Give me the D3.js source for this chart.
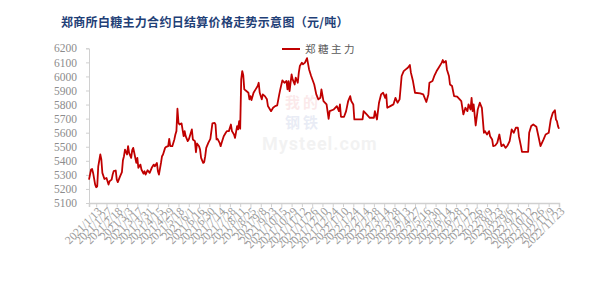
<!DOCTYPE html>
<html>
<head>
<meta charset="utf-8">
<script src="https://cdn.jsdelivr.net/npm/d3@7"></script>
<style>
  body { margin: 0; background: #fff; }
  svg { display: block; }
</style>
</head>
<body>
<div id="chart"></div>
<script>
'use strict'

// y axis ticks
const yTicks = [5100, 5200, 5300, 5400, 5500, 5600, 5700, 5800, 5900, 6000, 6100, 6200]

// trading-day index -> date label on the category axis
const tickDays = [7, 17, 27, 37, 47, 57, 67, 77, 87, 97, 107, 117, 127, 137, 147, 157, 167, 177, 187, 197,
  207, 217, 227, 237, 247, 257, 267, 277, 287, 297, 307, 317, 327, 337, 347, 357, 367, 377, 387, 397,
  407, 417, 427, 437, 447, 457]
const tickDates = ['2021/1/13', '2021/1/27', '2021/2/18', '2021/3/3', '2021/3/17', '2021/3/31', '2021/4/15',
  '2021/4/29', '2021/5/18', '2021/6/1', '2021/6/16', '2021/6/30', '2021/7/14', '2021/7/28', '2021/8/11',
  '2021/8/25', '2021/9/8', '2021/9/23', '2021/10/15', '2021/10/29', '2021/11/12', '2021/11/26',
  '2021/12/10', '2021/12/24', '2022/1/10', '2022/1/24', '2022/2/14', '2022/2/28', '2022/3/14',
  '2022/3/28', '2022/4/13', '2022/4/27', '2022/5/16', '2022/5/30', '2022/6/14', '2022/6/28',
  '2022/7/12', '2022/7/26', '2022/8/9', '2022/8/23', '2022/9/6', '2022/9/21', '2022/10/12',
  '2022/10/26', '2022/11/9', '2022/11/23']

// 郑糖主力 daily settlement (trading-day index, price)
const sugarDays = [0, 2, 3, 4, 6, 7, 8, 9, 11, 12, 13, 15, 17, 18, 19, 20, 22, 23, 24, 26, 27, 28, 30, 32, 33,
  34, 35, 37, 38, 39, 41, 42, 43, 44, 46, 47, 48, 50, 51, 53, 54, 55, 57, 59, 61, 63, 64, 66, 67, 68,
  70, 71, 72, 74, 75, 77, 78, 79, 81, 83, 84, 85, 86, 87, 88, 90, 92, 93, 94, 96, 97, 98, 100, 101,
  103, 104, 105, 107, 108, 109, 111, 112, 113, 114, 116, 118, 120, 122, 123, 124, 125, 127, 128, 129,
  131, 133, 134, 136, 138, 139, 141, 142, 144, 145, 146, 147, 148, 149, 150, 151, 153, 155, 156, 157,
  158, 160, 162, 164, 165, 166, 168, 169, 171, 173, 174, 175, 177, 179, 181, 183, 185, 186, 188, 190,
  192, 193, 194, 195, 197, 198, 200, 201, 203, 204, 205, 207, 208, 210, 212, 214, 216, 219, 221, 223,
  225, 226, 228, 231, 233, 234, 238, 241, 243, 244, 245, 248, 250, 252, 254, 255, 257, 258, 264, 266,
  267, 270, 273, 277, 278, 280, 282, 284, 286, 288, 289, 290, 293, 296, 298, 300, 302, 304, 306, 308,
  310, 312, 313, 315, 317, 322, 325, 328, 330, 331, 334, 336, 338, 340, 343, 344, 345, 347, 348, 350,
  351, 353, 355, 358, 360, 362, 364, 366, 368, 369, 371, 372, 373, 374, 376, 378, 380, 382, 384, 385,
  387, 389, 390, 392, 393, 395, 397, 399, 401, 403, 405, 407, 409, 411, 413, 415, 417, 418, 420, 421,
  427, 428, 430, 432, 435, 437, 439, 442, 444, 447, 449, 451, 453, 454, 455, 456, 457]
const sugarPrices = [5266, 5338, 5342, 5314, 5231, 5212, 5219, 5361, 5445, 5409, 5314, 5271, 5278, 5255,
  5231, 5255, 5266, 5302, 5326, 5331, 5266, 5248, 5286, 5319, 5404, 5433, 5480, 5445, 5504, 5457, 5421,
  5476, 5492, 5457, 5385, 5421, 5350, 5373, 5338, 5309, 5326, 5302, 5333, 5314, 5350, 5373, 5361, 5385,
  5326, 5302, 5385, 5433, 5445, 5492, 5499, 5504, 5556, 5504, 5504, 5552, 5587, 5611, 5770, 5670, 5658,
  5666, 5575, 5611, 5575, 5540, 5552, 5575, 5623, 5552, 5540, 5461, 5523, 5504, 5480, 5421, 5385, 5390,
  5433, 5492, 5528, 5556, 5666, 5670, 5658, 5552, 5556, 5528, 5504, 5528, 5575, 5599, 5611, 5611, 5658,
  5611, 5587, 5563, 5647, 5623, 5682, 5628, 5979, 6038, 6008, 5908, 5896, 5884, 5837, 5860, 5832, 5884,
  5908, 5932, 5955, 5884, 5837, 5872, 5860, 5837, 5789, 5777, 5753, 5777, 5789, 5794, 5872, 5908, 5972,
  5955, 5967, 5908, 5967, 5896, 6015, 5979, 5943, 5991, 5955, 6027, 6074, 6098, 6086, 6098, 6130, 6050,
  6003, 5943, 5872, 5837, 5848, 5908, 5825, 5801, 5699, 5753, 5765, 5789, 5753, 5801, 5713, 5713, 5753,
  5825, 5860, 5825, 5801, 5694, 5694, 5694, 5753, 5730, 5706, 5706, 5753, 5694, 5813, 5872, 5884, 5848,
  5872, 5777, 5789, 5801, 5848, 5813, 5837, 6003, 6038, 6050, 6062, 6081, 6027, 5967, 5884, 5879, 5872,
  5818, 5872, 5955, 5967, 6008, 6038, 6062, 6098, 6117, 6098, 6110, 6050, 6003, 5943, 5932, 5860, 5856,
  5841, 5825, 5730, 5777, 5753, 5801, 5765, 5848, 5753, 5801, 5651, 5765, 5813, 5777, 5599, 5611, 5587,
  5611, 5575, 5552, 5504, 5509, 5528, 5587, 5504, 5516, 5492, 5509, 5540, 5623, 5599, 5635, 5635, 5575,
  5504, 5464, 5464, 5599, 5647, 5658, 5642, 5575, 5504, 5552, 5587, 5599, 5694, 5741, 5760, 5694, 5682,
  5647, 5628]

const width = 600
const height = 282
const plot = { left: 89, right: 559, top: 48.3, bottom: 203 }

const svg = d3.select('#chart')
  .append('svg')
  .attr('width', width)
  .attr('height', height)

const x = d3.scaleLinear().domain([0, 457]).range([plot.left, plot.right])
const y = d3.scaleLinear().domain([5100, 6200]).range([plot.bottom, plot.top])

// title
svg.append('text')
  .attr('x', 61)
  .attr('y', 27)
  .attr('fill', '#1f3f77')
  .attr('font-family', '"Noto Sans CJK SC", sans-serif')
  .attr('font-weight', 'bold')
  .attr('font-size', 12)
  .attr('letter-spacing', 0.3)
  .text('郑商所白糖主力合约日结算价格走势示意图（元/吨）')

// faint watermark
const wm = svg.append('g').attr('class', 'watermark').attr('opacity', 0.1)
wm.append('text').attr('x', 285).attr('y', 108).attr('fill', '#e0303a')
  .attr('font-family', '"Noto Sans CJK SC"').attr('font-weight', 'bold').attr('font-size', 15)
  .attr('letter-spacing', 3).text('我的')
wm.append('text').attr('x', 285).attr('y', 128).attr('fill', '#3050a8')
  .attr('font-family', '"Noto Sans CJK SC"').attr('font-weight', 'bold').attr('font-size', 15)
  .attr('letter-spacing', 3).text('钢铁')
wm.append('text').attr('x', 262).attr('y', 150).attr('fill', '#8a8a8a')
  .attr('font-family', 'Roboto, sans-serif').attr('font-weight', 'bold').attr('font-size', 18)
  .attr('letter-spacing', 1).text('Mysteel.com')

// y axis
const yAxis = svg.append('g')
  .attr('class', 'yaxis')
  .attr('transform', `translate(${plot.left},0)`)
  .call(d3.axisLeft(y).tickValues(yTicks).tickSize(3).tickPadding(9).tickFormat(d3.format('d')))
yAxis.select('.domain').attr('stroke', '#d0d0d0')
yAxis.selectAll('.tick line').attr('stroke', '#d0d0d0')
yAxis.selectAll('text')
  .attr('fill', '#8c8c8c')
  .attr('font-family', '"Liberation Serif", serif')
  .attr('font-size', 11.5)

// x axis
const xAxis = svg.append('g')
  .attr('class', 'xaxis')
  .attr('transform', `translate(0,${plot.bottom})`)
  .call(d3.axisBottom(x).tickValues(tickDays).tickSize(4).tickFormat((d, i) => tickDates[i]))
xAxis.select('.domain').attr('stroke', '#d0d0d0').attr('stroke-width', 1.5)
xAxis.selectAll('.tick line').attr('stroke', '#d0d0d0')
xAxis.selectAll('text')
  .attr('fill', '#9a9a9a')
  .attr('font-family', '"Liberation Serif", serif')
  .attr('font-size', 11.5)
  .attr('text-anchor', 'end')
  .attr('dy', '0.35em')
  .attr('transform', 'translate(3,6) rotate(-45)')
  .attr('y', 0)

// line
const series = sugarDays.map((d, i) => ({ day: d, price: sugarPrices[i] }))
svg.append('path')
  .datum(series)
  .attr('class', 'sugarline')
  .attr('fill', 'none')
  .attr('stroke', '#c00000')
  .attr('stroke-width', 1.8)
  .attr('stroke-linejoin', 'round')
  .attr('d', d3.line().x(d => x(d.day)).y(d => y(d.price)))

// legend
const legend = svg.append('g').attr('class', 'legend')
legend.append('line')
  .attr('x1', 282).attr('x2', 300)
  .attr('y1', 49).attr('y2', 49)
  .attr('stroke', '#c00000').attr('stroke-width', 2)
legend.append('text')
  .attr('x', 305).attr('y', 49).attr('dy', '0.35em')
  .attr('fill', '#595959')
  .attr('font-family', '"Noto Sans CJK SC", sans-serif')
  .attr('font-size', 10.5)
  .attr('letter-spacing', 2.5)
  .text('郑糖主力')
</script>
</body>
</html>
